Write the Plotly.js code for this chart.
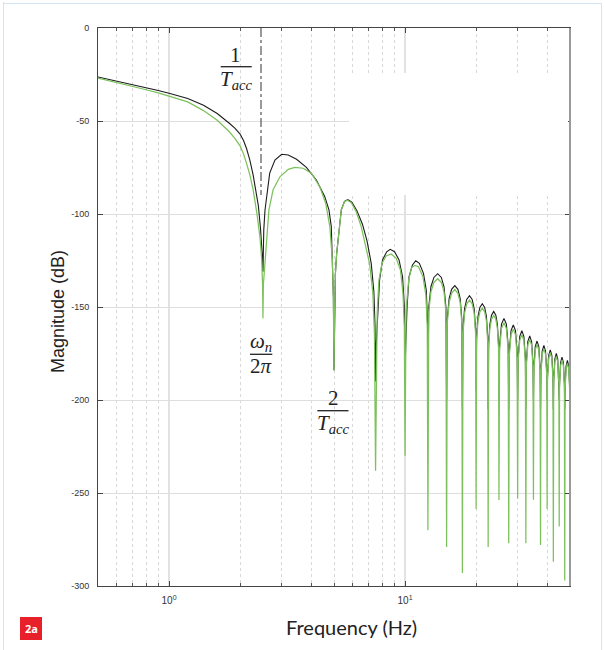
<!DOCTYPE html>
<html>
<head>
<meta charset="utf-8">
<script src="https://cdn.plot.ly/plotly-3.0.1.min.js"></script>
<style>html,body{margin:0;padding:0;background:#fff;}#chart{width:605px;height:650px;}</style>
</head>
<body>
<div id="chart"></div>
<script>
// ---- data ----
const blackFreq = [
  0.5, 0.6, 0.7, 0.8, 0.9, 1.0, 1.2, 1.4, 1.6, 1.8, 1.9, 2.0, 2.07, 2.13, 2.2, 2.27, 2.33, 2.39, 2.44, 2.47, 2.49, 2.5,
  2.52, 2.55, 2.59, 2.67, 2.81, 3.0, 3.2, 3.47, 3.82, 4.21, 4.57, 4.76, 4.87, 4.92, 4.97, 5.0,
  5.03, 5.07, 5.13, 5.25, 5.37, 5.54, 5.72, 5.95, 6.25, 6.6, 6.9, 7.19, 7.38, 7.46, 7.5,
  7.55, 7.67, 7.8, 8.03, 8.36, 8.65, 9.03, 9.43, 9.76, 9.93, 10.0,
  10.07, 10.2, 10.4, 10.75, 11.1, 11.5, 11.97, 12.3, 12.45, 12.5,
  12.6, 12.875, 13.25, 13.75, 14.25, 14.625, 14.9, 15,
  15.1, 15.375, 15.75, 16.25, 16.75, 17.125, 17.4, 17.5,
  17.6, 17.875, 18.25, 18.75, 19.25, 19.625, 19.9, 20,
  20.1, 20.375, 20.75, 21.25, 21.75, 22.125, 22.4, 22.5,
  22.6, 22.875, 23.25, 23.75, 24.25, 24.625, 24.9, 25,
  25.15, 25.625, 26.25, 26.875, 27.35, 27.5,
  27.65, 28.125, 28.75, 29.375, 29.85, 30,
  30.15, 30.625, 31.25, 31.875, 32.35, 32.5,
  32.65, 33.125, 33.75, 34.375, 34.85, 35,
  35.15, 35.625, 36.25, 36.875, 37.35, 37.5,
  37.65, 38.125, 38.75, 39.375, 39.85, 40,
  40.15, 40.625, 41.25, 41.875, 42.35, 42.5,
  42.65, 43.125, 43.75, 44.375, 44.85, 45,
  45.15, 45.625, 46.25, 46.875, 47.35, 47.5,
  47.65, 48.125, 48.75, 49.375, 49.85
];
const blackMag = [
  -26.3, -28.5, -30.4, -32.1, -33.6, -35.1, -37.9, -41.5, -46.0, -51.2, -53.8, -57.0, -60.6, -64.8, -71.0, -78.8, -86.5, -95.5, -107.5, -116.5, -124.7, -131.0,
  -108.6, -98.0, -90.7, -78.0, -71.0, -67.9, -68.3, -70.6, -74.9, -81.7, -90.7, -97.8, -106.8, -124.7, -145, -184,
  -155, -132, -121.5, -108.6, -97.6, -93.2, -92.3, -93.6, -98.2, -105.5, -114.5, -126.5, -142, -160, -190,
  -170, -153.4, -135.5, -124.7, -120.3, -119.0, -120.3, -124.7, -133.7, -149.8, -185,
  -170, -149.8, -133.7, -127.4, -125.1, -126.5, -131.9, -140.9, -158, -195,
  -150.1, -139.1, -134.1, -132.1, -134.1, -139.1, -150.1, -200,
  -156.5, -145.5, -140.5, -138.5, -140.5, -145.5, -156.5, -205,
  -161.9, -150.9, -145.9, -143.9, -145.9, -150.9, -161.9, -195,
  -166.2, -155.2, -150.2, -148.2, -150.2, -155.2, -166.2, -205,
  -170.4, -159.4, -154.4, -152.4, -154.4, -159.4, -170.4, -200,
  -170.7, -159.2, -156.2, -159.2, -170.7, -205,
  -174.2, -162.7, -159.7, -162.7, -174.2, -200,
  -177.3, -165.8, -162.8, -165.8, -177.3, -205,
  -180.1, -168.6, -165.6, -168.6, -180.1, -200,
  -182.8, -171.3, -168.3, -171.3, -182.8, -205,
  -185.2, -173.7, -170.7, -173.7, -185.2, -200,
  -187.5, -176.0, -173.0, -176.0, -187.5, -205,
  -189.5, -178.0, -175.0, -178.0, -189.5, -200,
  -191.4, -179.9, -176.9, -179.9, -191.4, -205,
  -193.2, -181.7, -178.7, -181.7, -193.2
];
const greenFreq = [
  0.5, 0.6, 0.7, 0.8, 0.9, 1.0, 1.2, 1.4, 1.6, 1.8, 1.9, 2.0, 2.07, 2.13, 2.2, 2.27, 2.32, 2.36, 2.43, 2.47, 2.49, 2.5,
  2.51, 2.55, 2.59, 2.65, 2.76, 2.95, 3.2, 3.41, 3.7, 4.01, 4.35, 4.61, 4.8, 4.92, 4.97, 5.0,
  5.03, 5.07, 5.13, 5.25, 5.37, 5.54, 5.7, 5.92, 6.21, 6.52, 6.84, 7.07, 7.3, 7.42, 7.5,
  7.55, 7.62, 7.75, 7.99, 8.31, 8.74, 9.17, 9.56, 9.8, 9.93, 10.0,
  10.07, 10.1, 10.36, 10.65, 11.0, 11.4, 11.9, 12.25, 12.42, 12.5,
  12.6, 12.875, 13.25, 13.75, 14.25, 14.625, 14.9, 15,
  15.1, 15.375, 15.75, 16.25, 16.75, 17.125, 17.4, 17.5,
  17.6, 17.875, 18.25, 18.75, 19.25, 19.625, 19.9, 20,
  20.1, 20.375, 20.75, 21.25, 21.75, 22.125, 22.4, 22.5,
  22.6, 22.875, 23.25, 23.75, 24.25, 24.625, 24.9, 25,
  25.15, 25.625, 26.25, 26.875, 27.35, 27.5,
  27.65, 28.125, 28.75, 29.375, 29.85, 30,
  30.15, 30.625, 31.25, 31.875, 32.35, 32.5,
  32.65, 33.125, 33.75, 34.375, 34.85, 35,
  35.15, 35.625, 36.25, 36.875, 37.35, 37.5,
  37.65, 38.125, 38.75, 39.375, 39.85, 40,
  40.15, 40.625, 41.25, 41.875, 42.35, 42.5,
  42.65, 43.125, 43.75, 44.375, 44.85, 45,
  45.15, 45.625, 46.25, 46.875, 47.35, 47.5,
  47.65, 48.125, 48.75, 49.375, 49.85
];
const greenMag = [
  -26.9, -29.2, -31.3, -33.2, -34.9, -36.6, -39.7, -44.4, -49.6, -55.8, -59.3, -63.4, -67.8, -72.8, -79.0, -86.8, -93.5, -100.2, -113.0, -124.7, -138.0, -156.0,
  -138, -124.7, -112, -97.8, -87, -80, -76, -74.9, -75.4, -78.1, -85.3, -94.2, -106.8, -124.7, -145, -184,
  -155, -132, -121.5, -108.6, -97.8, -93.4, -92.6, -93.9, -98.8, -106.8, -117.6, -126.5, -142, -165, -238,
  -180, -153.4, -135.5, -126.5, -122.6, -121.5, -123.8, -130.1, -142.6, -160, -230,
  -175, -152, -135.5, -128.9, -127.6, -128.3, -133.6, -143.5, -160, -270,
  -152.8, -141.8, -136.8, -134.8, -136.8, -141.8, -152.8, -279,
  -158.6, -147.6, -142.6, -140.6, -142.6, -147.6, -158.6, -293,
  -164.3, -153.3, -148.3, -146.3, -148.3, -153.3, -164.3, -258.6,
  -168.6, -157.6, -152.6, -150.6, -152.6, -157.6, -168.6, -279,
  -172.6, -161.6, -156.6, -154.6, -156.6, -161.6, -172.6, -253.8,
  -173.0, -161.5, -158.5, -161.5, -173.0, -277,
  -176.4, -164.9, -161.9, -164.9, -176.4, -253,
  -179.4, -167.9, -164.9, -167.9, -179.4, -277,
  -182.0, -170.5, -167.5, -170.5, -182.0, -253.6,
  -184.6, -173.1, -170.1, -173.1, -184.6, -278,
  -186.9, -175.4, -172.4, -175.4, -186.9, -258.6,
  -189.1, -177.6, -174.6, -177.6, -189.1, -287,
  -191.1, -179.6, -176.6, -179.6, -191.1, -268,
  -193.0, -181.5, -178.5, -181.5, -193.0, -297,
  -194.8, -183.3, -180.3, -183.3, -194.8
];
const yTicks = [0, -50, -100, -150, -200, -250, -300];
const yTickText = ['0', '-50', '-100', '-150', '-200', '-250', '-300'];
const xTicks = [1, 10];
const xTickText = ['10<sup>0</sup>', '10<sup>1</sup>'];
const xMinor = [0.6, 0.7, 0.8, 0.9, 2, 3, 4, 5, 6, 7, 8, 9, 20, 30, 40];

// ---- layout helpers (pixel -> paper) ----
const L = 98, T = 28, W = 472, H = 558;
const px = v => (v - L) / W;
const py = v => (T + H - v) / H;

const mathFont = {family: 'Liberation Serif, DejaVu Serif, serif', size: 21, color: '#222'};
function txt(text, x, y, font) {
  return {xref: 'paper', yref: 'paper', x: px(x), y: py(y), text: text, showarrow: false,
          xanchor: 'center', yanchor: 'middle', font: font || mathFont};
}
function bar(x0, x1, y) {
  return {type: 'line', xref: 'paper', yref: 'paper', x0: px(x0), x1: px(x1), y0: py(y), y1: py(y),
          line: {color: '#222', width: 1.3}};
}

const traces = [
  {x: blackFreq, y: blackMag, type: 'scatter', mode: 'lines', line: {color: '#1c1c1c', width: 1.1}, hoverinfo: 'skip'},
  {x: greenFreq, y: greenMag, type: 'scatter', mode: 'lines', line: {color: '#7cc25c', width: 1.25}, hoverinfo: 'skip'}
];

const layout = {
  width: 605, height: 650,
  margin: {l: L, r: 605 - L - W, t: T, b: 650 - T - H},
  paper_bgcolor: '#fff', plot_bgcolor: '#fff',
  showlegend: false,
  font: {family: 'Liberation Sans, Arial, sans-serif', size: 9, color: '#333'},
  xaxis: {
    type: 'log', range: [Math.log10(0.5), Math.log10(50)],
    tickmode: 'array', tickvals: xTicks, ticktext: xTickText,
    ticks: 'inside', ticklen: 5, tickcolor: '#444',
    showgrid: true, gridcolor: '#e2e2e2', gridwidth: 2,
    minor: {tickmode: 'array', tickvals: xMinor, ticks: 'inside', ticklen: 3, tickcolor: '#555',
            showgrid: true, gridcolor: '#d8d8d8', griddash: 'dot', gridwidth: 1},
    showline: true, linecolor: '#444', linewidth: 1, mirror: 'ticks',
    zeroline: false, ticklabelstandoff: 5,
    tickfont: {size: 10, color: '#333'}
  },
  yaxis: {
    range: [-300, 0], tickmode: 'array', tickvals: yTicks, ticktext: yTickText,
    ticks: 'inside', ticklen: 5, tickcolor: '#444',
    showgrid: true, gridcolor: '#dedede', gridwidth: 1,
    showline: true, linecolor: '#444', linewidth: 1, mirror: 'ticks',
    zeroline: false, ticklabelstandoff: 6,
    tickfont: {size: 9, color: '#333'}
  },
  shapes: [
    // white patch hiding grid in the upper right (as in the reference); no curve passes there
    {type: 'rect', xref: 'paper', yref: 'paper', x0: px(349), x1: px(568), y0: py(195), y1: py(73),
     fillcolor: '#ffffff', line: {width: 0}, layer: 'above'},
    // 1/Tacc marker
    {type: 'line', xref: 'paper', yref: 'paper', x0: px(261), x1: px(261), y0: py(28), y1: py(195),
     line: {color: '#333', width: 1, dash: 'dashdot'}},
    bar(220.7, 251.7, 66.7),
    bar(250, 272.3, 354.3),
    bar(317.3, 348.5, 410.7),
    // badge
    {type: 'rect', xref: 'paper', yref: 'paper', x0: px(20), x1: px(42), y0: py(640), y1: py(617),
     fillcolor: '#e8202a', line: {width: 0}},
    // light frame
    {type: 'line', xref: 'paper', yref: 'paper', x0: px(3.5), x1: px(3.5), y0: py(2), y1: py(650),
     line: {color: '#d3e4f4', width: 1}},
    {type: 'line', xref: 'paper', yref: 'paper', x0: px(3), x1: px(601), y0: py(3.5), y1: py(3.5),
     line: {color: '#d3e4f4', width: 1}},
    {type: 'line', xref: 'paper', yref: 'paper', x0: px(601.5), x1: px(601.5), y0: py(3), y1: py(650),
     line: {color: '#d3e4f4', width: 1}},
    // grey right frame edge
    {type: 'line', xref: 'paper', yref: 'paper', x0: 1, x1: 1, y0: 0, y1: 1,
     line: {color: '#9a9a9a', width: 2}}
  ],
  annotations: [
    txt('1', 235.5, 55),
    txt('<i>T</i><sub><i>acc</i></sub>', 236, 80),
    txt('<i>ω</i><sub><i>n</i></sub>', 261, 342),
    txt('2<i>π</i>', 261, 366),
    txt('2', 333, 398),
    txt('<i>T</i><sub><i>acc</i></sub>', 333, 424),
    txt('Frequency (Hz)', 351.5, 627, {family: 'Lato, Open Sans, sans-serif', size: 20, color: '#222'}),
    Object.assign(txt('Magnitude (dB)', 58, 312, {family: 'Liberation Sans, Arial, sans-serif', size: 18, color: '#222'}), {textangle: -90}),
    txt('<b>2a</b>', 31, 628.5, {family: 'Open Sans, sans-serif', size: 11, color: '#fff'})
  ]
};

Plotly.newPlot('chart', traces, layout, {staticPlot: true, displayModeBar: false});
</script>
</body>
</html>
